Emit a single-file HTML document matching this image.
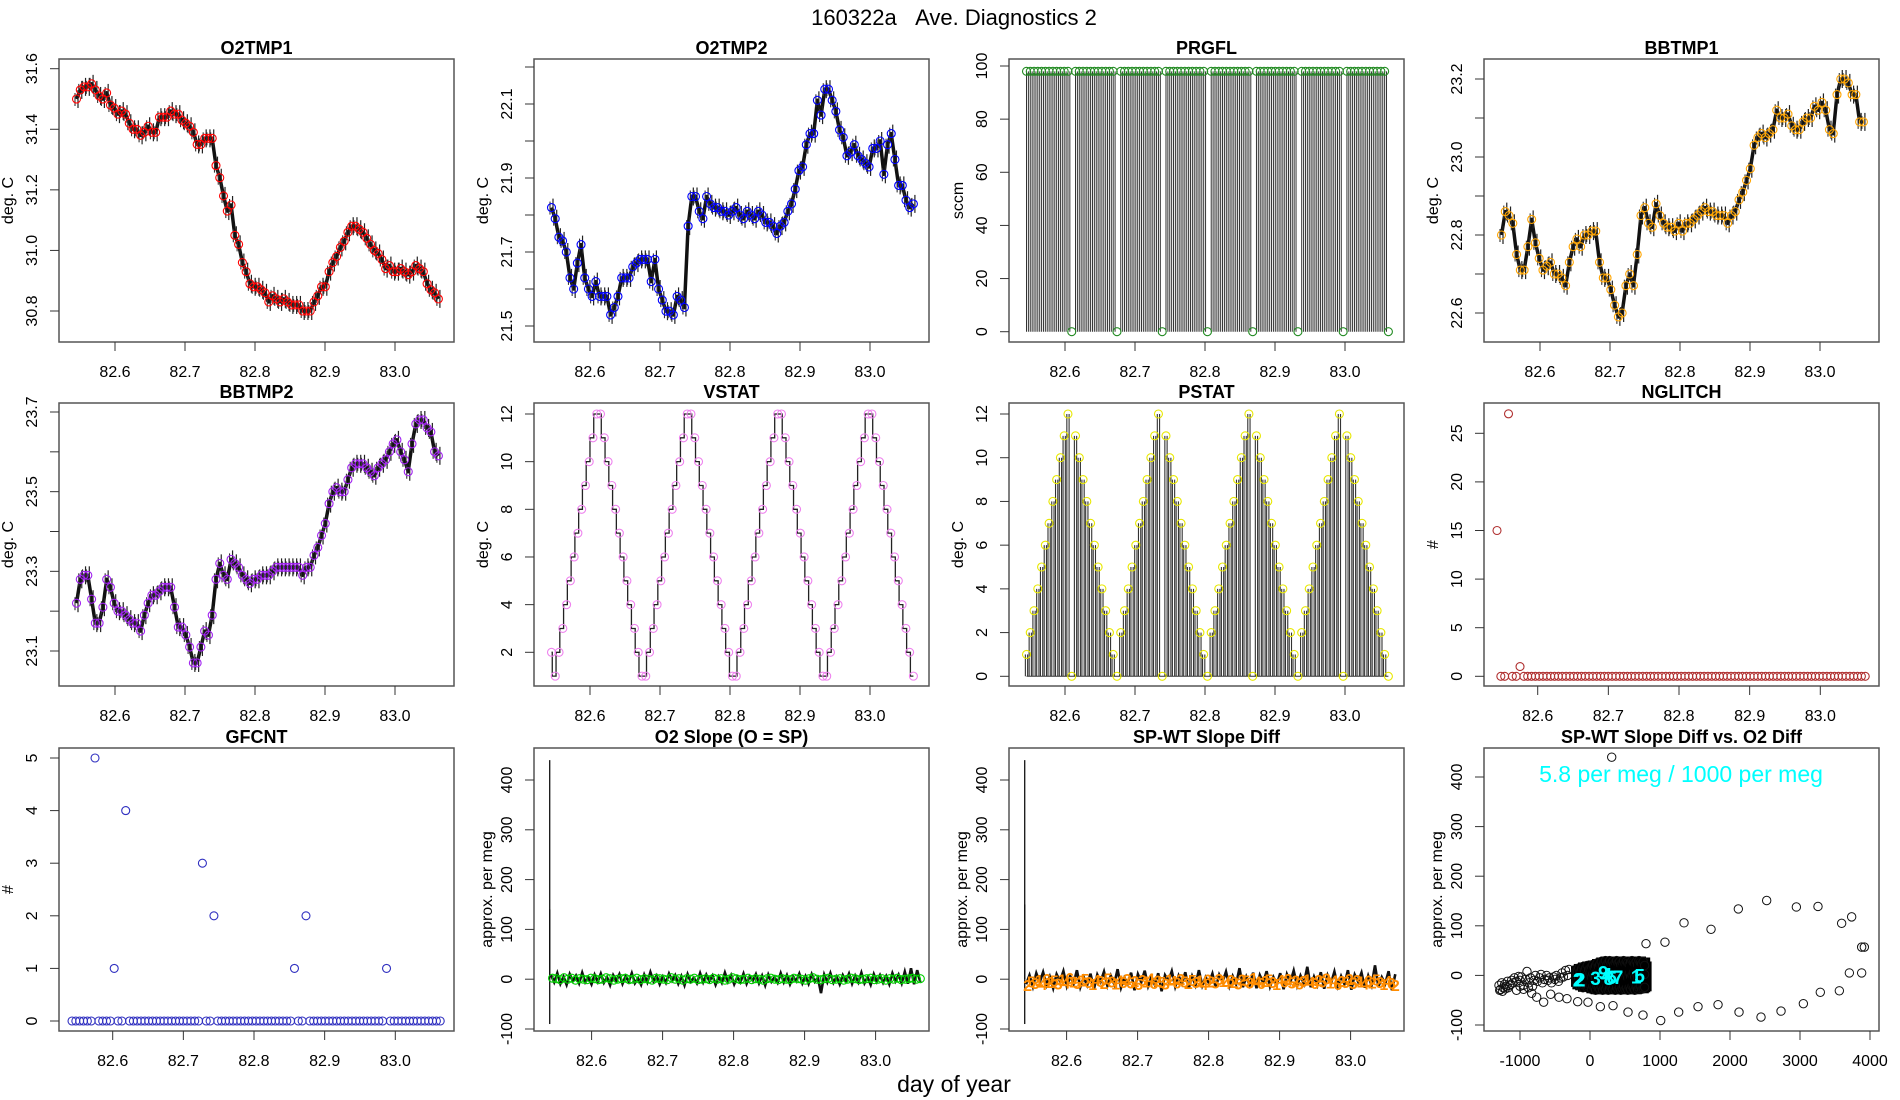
<!DOCTYPE html>
<html><head><meta charset="utf-8">
<style>
html,body{margin:0;padding:0;background:#fff;}
svg{display:block;font-family:"Liberation Sans",sans-serif;}
</style></head>
<body>
<svg id="chart" width="1900" height="1100" viewBox="0 0 1900 1100">
<text x="954" y="25" font-size="22" text-anchor="middle">160322a&#160;&#160;&#160;Ave. Diagnostics 2</text>
<text x="954" y="1092" font-size="23" text-anchor="middle">day of year</text>
</svg>
<script>
const timeTicks = [82.6, 82.7, 82.8, 82.9, 83.0];
const timeTickLabels = ["82.6", "82.7", "82.8", "82.9", "83.0"];
const scatTicks = [-1000, 0, 1000, 2000, 3000, 4000];
const scatTickLabels = ["-1000", "0", "1000", "2000", "3000", "4000"];

const o2tmp1 = [31.50,31.53,31.54,31.54,31.55,31.53,31.51,31.50,31.52,31.48,31.47,31.45,31.46,31.45,31.42,31.40,31.40,31.38,31.39,31.41,31.39,31.39,31.44,31.44,31.44,31.46,31.45,31.45,31.43,31.42,31.41,31.39,31.35,31.35,31.37,31.37,31.37,31.28,31.24,31.18,31.13,31.15,31.05,31.02,30.96,30.93,30.89,30.88,30.88,30.87,30.86,30.83,30.85,30.84,30.83,30.84,30.83,30.82,30.82,30.82,30.80,30.80,30.80,30.83,30.85,30.88,30.88,30.93,30.96,30.98,31.01,31.03,31.06,31.08,31.08,31.07,31.06,31.04,31.02,31.00,30.99,30.97,30.94,30.95,30.93,30.93,30.94,30.93,30.92,30.93,30.95,30.94,30.93,30.89,30.87,30.86,30.84];
const o2tmp2 = [21.82,21.79,21.74,21.73,21.70,21.63,21.60,21.67,21.72,21.63,21.60,21.58,21.62,21.58,21.58,21.58,21.53,21.55,21.58,21.63,21.63,21.63,21.66,21.67,21.68,21.68,21.68,21.62,21.68,21.60,21.57,21.54,21.54,21.53,21.58,21.57,21.55,21.77,21.85,21.85,21.81,21.79,21.85,21.83,21.82,21.82,21.81,21.81,21.80,21.81,21.82,21.80,21.79,21.81,21.80,21.79,21.81,21.80,21.78,21.78,21.77,21.75,21.77,21.78,21.81,21.83,21.87,21.92,21.93,21.99,22.02,22.02,22.11,22.07,22.14,22.14,22.11,22.08,22.03,22.01,21.96,21.97,21.99,21.96,21.95,21.94,21.93,21.98,21.98,22.00,21.91,21.99,22.02,21.95,21.88,21.88,21.84,21.82,21.83];
const bbtmp1 = [22.80,22.86,22.85,22.83,22.75,22.71,22.71,22.77,22.84,22.78,22.74,22.71,22.72,22.73,22.70,22.70,22.69,22.67,22.73,22.77,22.79,22.77,22.80,22.80,22.81,22.81,22.73,22.69,22.69,22.66,22.62,22.59,22.60,22.67,22.70,22.67,22.75,22.85,22.87,22.83,22.82,22.88,22.85,22.83,22.82,22.82,22.81,22.83,22.81,22.83,22.83,22.84,22.85,22.86,22.87,22.86,22.86,22.85,22.85,22.85,22.83,22.85,22.86,22.89,22.91,22.94,22.97,23.03,23.05,23.06,23.05,23.06,23.07,23.12,23.10,23.10,23.11,23.08,23.07,23.07,23.09,23.10,23.10,23.13,23.12,23.14,23.12,23.07,23.06,23.16,23.20,23.20,23.19,23.16,23.16,23.09,23.09];
const bbtmp2 = [23.22,23.28,23.29,23.29,23.23,23.17,23.17,23.21,23.28,23.26,23.22,23.20,23.20,23.19,23.18,23.17,23.17,23.15,23.19,23.22,23.24,23.24,23.25,23.26,23.26,23.26,23.21,23.16,23.16,23.14,23.11,23.07,23.07,23.11,23.15,23.14,23.19,23.28,23.32,23.29,23.28,23.33,23.32,23.31,23.29,23.28,23.27,23.28,23.28,23.29,23.29,23.29,23.30,23.31,23.31,23.31,23.31,23.31,23.31,23.31,23.29,23.31,23.31,23.34,23.36,23.39,23.42,23.47,23.50,23.51,23.50,23.50,23.53,23.56,23.57,23.57,23.57,23.56,23.55,23.54,23.56,23.57,23.58,23.60,23.62,23.63,23.60,23.58,23.55,23.62,23.67,23.68,23.68,23.66,23.65,23.60,23.59];
const prgfl = [98,98,98,98,98,98,98,98,98,98,98,98,0,98,98,98,98,98,98,98,98,98,98,98,0,98,98,98,98,98,98,98,98,98,98,98,0,98,98,98,98,98,98,98,98,98,98,98,0,98,98,98,98,98,98,98,98,98,98,98,0,98,98,98,98,98,98,98,98,98,98,98,0,98,98,98,98,98,98,98,98,98,98,98,0,98,98,98,98,98,98,98,98,98,98,98,0];
const vstat = [2,1,2,3,4,5,6,7,8,9,10,11,12,12,11,10,9,8,7,6,5,4,3,2,1,1,2,3,4,5,6,7,8,9,10,11,12,12,11,10,9,8,7,6,5,4,3,2,1,1,2,3,4,5,6,7,8,9,10,11,12,12,11,10,9,8,7,6,5,4,3,2,1,1,2,3,4,5,6,7,8,9,10,11,12,12,11,10,9,8,7,6,5,4,3,2,1];
const pstat = [1,2,3,4,5,6,7,8,9,10,11,12,0,11,10,9,8,7,6,5,4,3,2,1,0,2,3,4,5,6,7,8,9,10,11,12,0,11,10,9,8,7,6,5,4,3,2,1,0,2,3,4,5,6,7,8,9,10,11,12,0,11,10,9,8,7,6,5,4,3,2,1,0,2,3,4,5,6,7,8,9,10,11,12,0,11,10,9,8,7,6,5,4,3,2,1,0];
const nglitch = [15,0,0,27,0,0,1,0,0,0,0,0,0,0,0,0,0,0,0,0,0,0,0,0,0,0,0,0,0,0,0,0,0,0,0,0,0,0,0,0,0,0,0,0,0,0,0,0,0,0,0,0,0,0,0,0,0,0,0,0,0,0,0,0,0,0,0,0,0,0,0,0,0,0,0,0,0,0,0,0,0,0,0,0,0,0,0,0,0,0,0,0,0,0,0,0,0];
const gfcnt = [0,0,0,0,0,0,5,0,0,0,0,1,0,0,4,0,0,0,0,0,0,0,0,0,0,0,0,0,0,0,0,0,0,0,3,0,0,2,0,0,0,0,0,0,0,0,0,0,0,0,0,0,0,0,0,0,0,0,1,0,0,2,0,0,0,0,0,0,0,0,0,0,0,0,0,0,0,0,0,0,0,0,1,0,0,0,0,0,0,0,0,0,0,0,0,0,0];
const o2Spike = [440, -90, 140];
const o2Raw = [8,-6,12,-9,5,-11,10,-4,7,-8,13,-6,3,-10,9,-5,11,-7,4,-12,8,-3,10,-9,6,-5,12,-8,2,-11,9,-6,14,-4,7,-10,5,-7,11,-3,8,-9,6,-12,10,-5,3,-8,12,-6,9,-4,7,-11,5,-7,13,-5,8,-10,4,-6,11,-9,6,-3,10,-8,7,-12,9,-5,4,-7,12,-6,8,-10,5,-4,11,-8,6,-9,10,-5,3,-28,9,-6,12,-7,5,-10,8,-4,11,-9,7,-6,13,-8,4,-11,10,-5,8,-7,6,-10,12,-4,9,-8,15,-9,22,-10,18,-6];
const o2Slope = [2,1,-1,3,0,2,-2,1,0,-1,2,1,-1,0,3,1,-2,0,1,2,-1,0,2,-1,1,0,-2,2,1,0,-1,3,0,1,-2,1,0,2,-1,0,1,-1,2,0,1,-2,0,3,1,-1,0,2,-1,1,0,-2,1,2,0,-1,1,0,-1,2,1,0,-2,1,3,0,-1,1,2,-1,0,1,-2,0,2,1,-1,0,1,2,-1,0,1,-2,1,0,2,-1,0,1,2,0,1];
const spSpike = [440, -90, 150];
const spRaw = [-10,8,-15,12,-6,14,-12,5,-18,10,-4,16,-14,6,-9,18,-16,4,-12,11,-20,9,-5,15,-13,7,-10,20,-17,3,-8,13,-22,10,-6,17,-14,5,-11,12,-24,8,-4,16,-15,7,-9,14,-19,6,-12,18,-13,4,-8,11,-17,9,-5,15,-14,6,-10,22,-16,5,-12,13,-18,8,-7,16,-15,4,-11,12,-20,10,-6,17,-13,7,-9,25,-16,5,-12,14,-19,8,-8,15,-14,6,-10,18,-21,9,-5,13,-17,7,-12,28,-15,4,-9,16,-22,10];
const spSlope = [-12,-5,-8,-2,-10,0,-6,-3,-9,-1,-7,2,-5,-8,-3,0,-6,-10,-2,-4,-8,1,-5,-9,-3,-6,0,-7,-4,-10,-2,-5,1,-8,-3,-6,-9,-1,-4,-7,0,-5,-8,-2,-6,-3,-10,-1,-5,-7,0,-4,-8,-2,-6,-9,-1,-3,-7,2,-5,-8,-4,-1,-6,-10,-2,-5,0,-7,-3,-9,-4,-1,-6,-8,-2,-5,1,-7,-3,-10,-4,-6,0,-8,-2,-5,-9,-3,-7,-1,-6,-10,-4,-8,-12];
const spLabels = ["2","5","3","1","4","6","2","5","3","1","4","6","2","5"];

const loopX = [310,800,1071,1343,1729,2119,2524,2948,3257,3595,3738,3881,3919,3881,3705,3562,3290,3048,2729,2443,2129,1829,1543,1267,1010,757,543,329,148,-29,-176,-329,-443,-562,-662,-762,-833,-880,-950,-1000,-1050];
const loopY = [440,64,67,106,93,134,151,138,139,105,118,57,57,5,5,-31,-34,-57,-72,-84,-74,-59,-63,-74,-91,-80,-74,-61,-63,-54,-53,-47,-44,-38,-54,-44,-36,-25,-28,-22,-30];
const bandX = [-1300,-1280,-1260,-1240,-1220,-1200,-1180,-1150,-1120,-1100,-1080,-1050,-1020,-1000,-980,-950,-920,-900,-870,-850,-820,-800,-780,-750,-720,-700,-680,-650,-620,-600,-580,-550,-520,-500,-480,-450,-420,-400,-380,-350,-320,-300,-1290,-1250,-1210,-1170,-1130];
const bandY = [-20,-28,-15,-25,-18,-22,-12,-20,-10,-15,-5,-12,-2,-10,-3,-20,-8,8,-15,-5,-22,-10,0,-12,-5,2,-15,-8,0,-10,-5,-15,-3,-8,0,-12,-5,5,-3,10,0,12,-30,-32,-27,-25,-18];
const blobX = [-200,-180,-160,-140,-120,-100,-80,-60,-40,-20,0,20,40,60,80,100,120,140,160,180,200,220,240,260,280,300,320,340,360,380,400,420,440,460,480,500,520,540,560,580,600,620,640,660,680,700,720,740,760,780];
const blobYa = [10,12,15,8,14,18,10,15,20,12,15,18,22,16,20,25,18,22,28,20,25,30,22,26,30,24,28,22,26,30,25,28,22,26,30,24,28,25,22,28,30,26,24,28,22,30,26,24,28,20];
const blobYb = [-15,-20,-18,-22,-15,-25,-20,-18,-25,-22,-20,-28,-22,-25,-30,-22,-26,-28,-24,-30,-25,-28,-22,-30,-26,-24,-28,-22,-30,-25,-28,-24,-30,-26,-22,-28,-25,-30,-24,-28,-22,-26,-30,-24,-28,-25,-22,-28,-26,-24];
const blobYc = [-2,3,-5,5,0,-3,4,-6,2,-1,5,-4,3,0,-5,6,-2,4,-3,1,5,-4,2,-6,3,0,-3,6,-1,4,-5,2,-2,5,-4,1,3,-5,4,-2,0,6,-3,2,-4,5,-1,3,-5,2];
const cyanLab = ["2","2","3","9","4","8","6","7","1","5"];
const cyanX = [-170,-140,80,190,240,270,310,400,660,710];
const cyanY = [-8,-8,-5,6,2,-5,-3,-3,-2,0];

const NS = "http://www.w3.org/2000/svg";
const svg = document.getElementById("chart");
function mk(tag, attrs, parent) {
  const e = document.createElementNS(NS, tag);
  for (const k in attrs) e.setAttribute(k, attrs[k]);
  (parent || svg).appendChild(e);
  return e;
}
const COLS = [59, 534, 1009, 1484];
const ROWS = [59, 403, 748];
const W = 395, H = 283;

function panel(c) {
  const L = COLS[c.col], T = ROWS[c.row];
  const g = mk("g", {});
  
  
  const sx = v => c.xA[1] + (v - c.xA[0]) * (c.xB[1] - c.xA[1]) / (c.xB[0] - c.xA[0]);
  const sy = v => c.yA[1] + (v - c.yA[0]) * (c.yB[1] - c.yA[1]) / (c.yB[0] - c.yA[0]);
  const box = mk("rect", {x: L, y: T, width: W, height: H, fill: "none", stroke: "#555", "stroke-width": 1.5}, g);
  
  
  const tt = mk("text", {x: L + W / 2, y: T - 5, "font-size": 18, "font-weight": "bold", "text-anchor": "middle"}, g);
  tt.textContent = c.title;
  
  
  c.xt.forEach((v, i) => {
    const x = sx(v);
    const tk = mk("line", {x1: x, x2: x, y1: T + H, y2: T + H + 9, stroke: "#333", "stroke-width": 1}, g);
    
    
    const tl = mk("text", {x: x, y: T + H + 35, "font-size": 16, "text-anchor": "middle"}, g);
    tl.textContent = c.xl[i];
    
    
  });
  c.yt.forEach((v, i) => {
    const y = sy(v);
    const tk = mk("line", {x1: L - 9, x2: L, y1: y, y2: y, stroke: "#333", "stroke-width": 1}, g);
    
    
    if (c.yl[i] !== "") {
      const tl = mk("text", {x: 0, y: 0, "font-size": 16, "text-anchor": "middle", transform: "translate(" + (L - 22) + "," + y + ") rotate(-90)"}, g);
      tl.textContent = c.yl[i];
      
      
    }
  });
  const yt = mk("text", {x: 0, y: 0, "font-size": 16, "text-anchor": "middle", transform: "translate(" + (L - c.ylabOff) + "," + (T + H / 2) + ") rotate(-90)"}, g);
  yt.textContent = c.ylab;
  
  
  return {g, sx, sy, L, T};
}
function tgrid(n, t0, t1) { const a = []; for (let i = 0; i < n; i++) a.push(t0 + (t1 - t0) * i / (n - 1)); return a; }
function circle(g, x, y, col, name) {
  const c = mk("circle", {cx: x, cy: y, r: 4, fill: "none", stroke: col, "stroke-width": 1.1}, g);
  
  
  return c;
}
function fmt(v, d) { return v.toFixed(d); }
function rangeTicks(a, b, s) { const r = []; for (let v = a; v <= b + s / 1e3; v += s) r.push(Math.round(v * 1000) / 1000); return r; }

function tempPanel(name, col, row, title, data, yA, yB, yt, yl, color) {
  const p = panel({name, col, row, title, ylab: "deg. C", ylabOff: 46, xA: [82.6, COLS[col] + 56], xB: [83.0, COLS[col] + 336], yA, yB, xt: timeTicks, xl: timeTickLabels, yt, yl});
  const ts = tgrid(data.length, 82.545, 83.062);
  const pts = data.map((v, i) => p.sx(ts[i]).toFixed(1) + "," + p.sy(v).toFixed(1)).join(" ");
  const ln = mk("polyline", {points: pts, fill: "none", stroke: "#111", "stroke-width": 3.5, "stroke-linejoin": "round"}, p.g);
  
  
  data.forEach((v, i) => {
    const x = p.sx(ts[i]), y = p.sy(v);
    const j = mk("line", {x1: x + 1.5, x2: x + 1.5, y1: y - 9, y2: y + 9, stroke: "#222", "stroke-width": 1.2}, p.g);
    
    
    const j2 = mk("line", {x1: x - 1.5, x2: x - 1.5, y1: y - 6, y2: y + 7, stroke: "#333", "stroke-width": 1.1}, p.g);
    
    
  });
  data.forEach((v, i) => circle(p.g, p.sx(ts[i]), p.sy(v), color, name + '-point'));
}

tempPanel("o2tmp1", 0, 0, "O2TMP1", o2tmp1, [31.6, 68.7], [30.8, 311], rangeTicks(30.8, 31.6, 0.2), rangeTicks(30.8, 31.6, 0.2).map(v => fmt(v, 1)), "#ff0000");
tempPanel("o2tmp2", 1, 0, "O2TMP2", o2tmp2, [22.2, 67], [21.5, 326], rangeTicks(21.5, 22.2, 0.1), rangeTicks(21.5, 22.2, 0.1).map((v, i) => i % 2 === 0 ? fmt(v, 1) : ""), "#0000ff");
tempPanel("bbtmp1", 3, 0, "BBTMP1", bbtmp1, [23.2, 79], [22.6, 313], rangeTicks(22.6, 23.2, 0.1), rangeTicks(22.6, 23.2, 0.1).map((v, i) => i % 2 === 0 ? fmt(v, 1) : ""), "#ffa500");
tempPanel("bbtmp2", 0, 1, "BBTMP2", bbtmp2, [23.7, 412], [23.1, 651], rangeTicks(23.1, 23.7, 0.1), rangeTicks(23.1, 23.7, 0.1).map((v, i) => i % 2 === 0 ? fmt(v, 1) : ""), "#a020f0");

// PRGFL
(function () {
  const p = panel({name: "prgfl", col: 2, row: 0, title: "PRGFL", ylab: "sccm", ylabOff: 46, xA: [82.6, 1065], xB: [83.0, 1345], yA: [100, 66], yB: [0, 331.7], xt: timeTicks, xl: timeTickLabels, yt: [0, 20, 40, 60, 80, 100], yl: ["0", "20", "40", "60", "80", "100"]});
  const ts = tgrid(prgfl.length, 82.545, 83.062);
  const dt = ts[1] - ts[0];
  prgfl.forEach((v, i) => {
    if (v > 0) {
      [0, 0.5].forEach(f => {
        const x = p.sx(ts[i] + f * dt);
        const l = mk("line", {x1: x, x2: x, y1: p.sy(0), y2: p.sy(v), stroke: "#333", "stroke-width": 1}, p.g);
        
        
      });
    }
  });
  prgfl.forEach((v, i) => circle(p.g, p.sx(ts[i]), p.sy(v), "#228b22", 'prgfl-point'));
})();

// VSTAT
(function () {
  const p = panel({name: "vstat", col: 1, row: 1, title: "VSTAT", ylab: "deg. C", ylabOff: 46, xA: [82.6, 590], xB: [83.0, 870], yA: [12, 414], yB: [2, 652.3], xt: timeTicks, xl: timeTickLabels, yt: [2, 4, 6, 8, 10, 12], yl: ["2", "4", "6", "8", "10", "12"]});
  const ts = tgrid(vstat.length, 82.545, 83.062);
  let d = "";
  vstat.forEach((v, i) => {
    const x = p.sx(ts[i]), y = p.sy(v);
    if (i === 0) d += "M" + x + "," + y; else d += " H" + (x - 3) + " V" + y + " H" + x;
  });
  const ln = mk("path", {d, fill: "none", stroke: "#222", "stroke-width": 1.3}, p.g);
  
  
  vstat.forEach((v, i) => circle(p.g, p.sx(ts[i]), p.sy(v), "#ee82ee", 'vstat-point'));
})();

// PSTAT
(function () {
  const p = panel({name: "pstat", col: 2, row: 1, title: "PSTAT", ylab: "deg. C", ylabOff: 46, xA: [82.6, 1065], xB: [83.0, 1345], yA: [12, 414], yB: [0, 676.3], xt: timeTicks, xl: timeTickLabels, yt: [0, 2, 4, 6, 8, 10, 12], yl: ["0", "2", "4", "6", "8", "10", "12"]});
  const ts = tgrid(pstat.length, 82.545, 83.062);
  const dt = ts[1] - ts[0];
  pstat.forEach((v, i) => {
    if (v > 0) {
      [-0.3, 0.3].forEach(f => {
        const x = p.sx(ts[i] + f * dt);
        const l = mk("line", {x1: x, x2: x, y1: p.sy(0), y2: p.sy(v), stroke: "#333", "stroke-width": 1.1}, p.g);
        
        
      });
    }
  });
  const base = mk("line", {x1: p.sx(ts[0]), x2: p.sx(ts[ts.length - 1]), y1: p.sy(0), y2: p.sy(0), stroke: "#333", "stroke-width": 1}, p.g);
  
  
  pstat.forEach((v, i) => circle(p.g, p.sx(ts[i]), p.sy(v), "#e8e800", 'pstat-point'));
})();

// NGLITCH
(function () {
  const L = COLS[3];
  const p = panel({name: "nglitch", col: 3, row: 1, title: "NGLITCH", ylab: "#", ylabOff: 46, xA: [82.6, L + 53.7], xB: [83.0, L + 336.3], yA: [25, 433.3], yB: [0, 676.3], xt: timeTicks, xl: timeTickLabels, yt: [0, 5, 10, 15, 20, 25], yl: ["0", "5", "10", "15", "20", "25"]});
  const ts = tgrid(nglitch.length, 82.5424, 83.0636);
  nglitch.forEach((v, i) => circle(p.g, p.sx(ts[i]), p.sy(v), "#b03030", 'nglitch-point'));
})();

// GFCNT
(function () {
  const L = COLS[0];
  const p = panel({name: "gfcnt", col: 0, row: 2, title: "GFCNT", ylab: "#", ylabOff: 46, xA: [82.6, L + 53.7], xB: [83.0, L + 336.3], yA: [5, 758], yB: [0, 1021], xt: timeTicks, xl: timeTickLabels, yt: [0, 1, 2, 3, 4, 5], yl: ["0", "1", "2", "3", "4", "5"]});
  const ts = tgrid(gfcnt.length, 82.5424, 83.0636);
  gfcnt.forEach((v, i) => circle(p.g, p.sx(ts[i]), p.sy(v), "#3030c0", 'gfcnt-point'));
})();

// Slope panels
function slopePanel(name, col, title, spike, raw, vals, mode) {
  const L = COLS[col];
  const p = panel({name, col, row: 2, title, ylab: "approx. per meg", ylabOff: 42, xA: [82.6, L + 57.6], xB: [83.0, L + 341.6], yA: [400, 780], yB: [-100, 1029], xt: timeTicks, xl: timeTickLabels, yt: [-100, 0, 100, 200, 300, 400], yl: ["-100", "0", "100", "200", "300", "400"]});
  const x0 = p.sx(82.541);
  spike.forEach(v => {
    const l = mk("line", {x1: x0, x2: x0, y1: p.sy(0), y2: p.sy(v), stroke: "#111", "stroke-width": 1.3}, p.g);
    
    
  });
  const tr = tgrid(raw.length, 82.543, 83.063);
  const pts = raw.map((v, i) => p.sx(tr[i]).toFixed(1) + "," + p.sy(v).toFixed(1)).join(" ");
  const ln = mk("polyline", {points: pts, fill: "none", stroke: "#111", "stroke-width": 2.6}, p.g);
  
  
  const ts = tgrid(vals.length, 82.545, 83.063);
  vals.forEach((v, i) => {
    if (mode === "circle") {
      circle(p.g, p.sx(ts[i]), p.sy(v), "#00d000", name + '-point');
    } else {
      const t = mk("text", {x: p.sx(ts[i]), y: p.sy(v) + 6, "font-size": 16, "font-weight": "bold", fill: "#ff8c00", "text-anchor": "middle"}, p.g);
      t.textContent = spLabels[i % spLabels.length];
      
      
    }
  });
}
slopePanel("o2-slope", 1, "O2 Slope (O = SP)", o2Spike, o2Raw, o2Slope, "circle");
slopePanel("spwt-slope", 2, "SP-WT Slope Diff", spSpike, spRaw, spSlope, "text");

// Scatter
(function () {
  const L = COLS[3];
  const p = panel({name: "scatter", col: 3, row: 2, title: "SP-WT Slope Diff vs. O2 Diff", ylab: "approx. per meg", ylabOff: 42, xA: [-1000, 1520], xB: [4000, 1870], yA: [400, 777], yB: [-100, 1025], xt: scatTicks, xl: scatTickLabels, yt: [-100, 0, 100, 200, 300, 400], yl: ["-100", "0", "100", "200", "300", "400"]});
  const dot = (x, y, nm) => {
    const c = mk("circle", {cx: p.sx(x), cy: p.sy(y), r: 4.2, fill: "none", stroke: "#111", "stroke-width": 1}, p.g);
    
    
  };
  loopX.forEach((x, i) => dot(x, loopY[i], 'scatter-outlier-point'));
  bandX.forEach((x, i) => dot(x, bandY[i], 'scatter-band-point'));
  blobX.forEach((x, i) => {
    const b = mk("rect", {x: p.sx(x) - 5, y: p.sy(blobYa[i]) - 4, width: 12, height: p.sy(blobYb[i]) - p.sy(blobYa[i]) + 8, fill: "#000"}, p.g);
    
    
    dot(x, blobYa[i], 'scatter-cluster-point');
    dot(x, blobYb[i], 'scatter-cluster-point');
    dot(x, blobYc[i], 'scatter-cluster-point');
  });
  cyanLab.forEach((s, i) => {
    const t = mk("text", {x: p.sx(cyanX[i]), y: p.sy(cyanY[i]) + 7, "font-size": 19, "font-weight": "bold", fill: "#00ffff", "text-anchor": "middle"}, p.g);
    t.textContent = s;
    
    
  });
  const ann = mk("text", {x: 1681, y: 782, "font-size": 23, fill: "#00ffff", "text-anchor": "middle"}, p.g);
  ann.textContent = "5.8 per meg / 1000 per meg";
  
  
})();
</script>
</body></html>
